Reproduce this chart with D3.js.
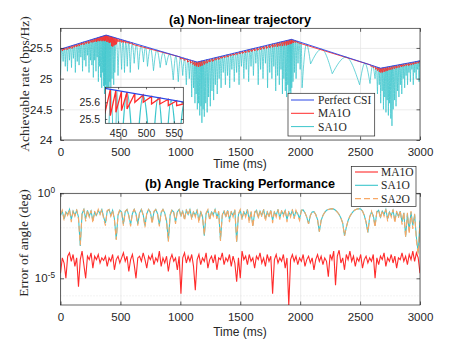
<!DOCTYPE html>
<html>
<head>
<meta charset="utf-8">
<script src="https://cdn.jsdelivr.net/npm/d3@7"></script>
<style>
  body { margin: 0; background: #fff; }
</style>
</head>
<body>
<div id="chart"></div>
<script>
// ---- data ----
var timeTicks = [0, 500, 1000, 1500, 2000, 2500, 3000];
var rateTicks = [24, 24.5, 25, 25.5];
var insetTimeTicks = [450, 500, 550];
var insetRateTicks = [25.5, 25.6];
var errorTicks = [1e-5, 1];

// perfect CSI: corners of the trajectory [time ms, rate]
var perfectCsi = [[0, 25.48], [381, 25.71], [1140, 25.27], [1928, 25.64], [2671, 25.17], [3000, 25.29]];

// MA1O sawtooth teeth: [time, top, bottom]
var ma1oTeeth = [
  [0, 25.48, 25.48],
  [15, 25.489, 25.45], [35, 25.501, 25.47], [55, 25.513, 25.47], [75, 25.525, 25.49], [95, 25.537, 25.49],
  [115, 25.549, 25.51], [135, 25.562, 25.52], [155, 25.574, 25.53], [175, 25.586, 25.55], [195, 25.598, 25.55],
  [215, 25.610, 25.57], [235, 25.622, 25.57], [255, 25.634, 25.59], [270, 25.643, 25.59], [285, 25.652, 25.60],
  [300, 25.661, 25.60], [312, 25.668, 25.61], [324, 25.676, 25.61], [336, 25.683, 25.62], [346, 25.689, 25.61],
  [356, 25.695, 25.62], [366, 25.701, 25.61], [376, 25.707, 25.62], [386, 25.707, 25.60], [396, 25.701, 25.60],
  [406, 25.695, 25.58], [416, 25.690, 25.59], [426, 25.684, 25.53], [436, 25.678, 25.52], [446, 25.672, 25.54],
  [456, 25.666, 25.55], [466, 25.661, 25.56], [480, 25.653, 25.60], [495, 25.644, 25.60], [510, 25.635, 25.59],
  [525, 25.626, 25.59], [540, 25.618, 25.58], [555, 25.609, 25.58], [575, 25.597, 25.57], [600, 25.583, 25.56],
  [1000, 25.351, 25.32], [1030, 25.334, 25.30], [1060, 25.316, 25.27], [1085, 25.302, 25.25], [1105, 25.290, 25.23],
  [1120, 25.281, 25.21], [1135, 25.273, 25.20], [1150, 25.275, 25.19], [1165, 25.282, 25.20], [1180, 25.289, 25.21],
  [1200, 25.298, 25.23], [1222, 25.309, 25.25], [1245, 25.319, 25.27], [1270, 25.331, 25.28], [1295, 25.343, 25.30],
  [1320, 25.355, 25.31], [1345, 25.366, 25.33], [1370, 25.378, 25.34], [1395, 25.390, 25.35], [1420, 25.402, 25.37],
  [1445, 25.413, 25.38], [1470, 25.425, 25.39], [1495, 25.437, 25.40], [1520, 25.449, 25.41], [1545, 25.460, 25.42],
  [1570, 25.472, 25.43], [1595, 25.484, 25.44], [1620, 25.496, 25.45], [1645, 25.507, 25.46], [1670, 25.519, 25.47],
  [1695, 25.531, 25.48], [1720, 25.543, 25.49], [1745, 25.554, 25.50], [1770, 25.566, 25.51], [1790, 25.576, 25.52],
  [1810, 25.585, 25.52], [1830, 25.594, 25.53], [1850, 25.604, 25.53], [1868, 25.612, 25.54], [1885, 25.620, 25.54],
  [1900, 25.627, 25.55], [1915, 25.634, 25.56], [1928, 25.640, 25.57], [1942, 25.631, 25.58], [1958, 25.621, 25.59],
  [1975, 25.610, 25.59],
  [2590, 25.221, 25.20], [2610, 25.208, 25.18], [2628, 25.197, 25.15], [2645, 25.186, 25.13], [2660, 25.177, 25.11],
  [2672, 25.170, 25.10], [2685, 25.175, 25.10], [2700, 25.181, 25.11], [2715, 25.186, 25.12], [2730, 25.192, 25.13],
  [2748, 25.198, 25.14], [2766, 25.205, 25.15], [2785, 25.212, 25.16], [2805, 25.219, 25.17], [2825, 25.226, 25.18],
  [2845, 25.234, 25.19], [2865, 25.241, 25.20], [2885, 25.248, 25.21], [2905, 25.255, 25.21], [2925, 25.263, 25.22],
  [2945, 25.270, 25.23], [2965, 25.277, 25.24], [2985, 25.285, 25.25],
  [3000, 25.29, 25.29]
];

// SA1O rate: dip, top, dip, top, ... [time, rate]
var sa1oRate = [
  [0,25.05],[11,25.49],[22,25.28],[31,25.50],[40,25.2],[49,25.51],[58,25.12],[66,25.52],[75,25.3],[83,25.53],
  [92,25.18],[100,25.54],[108,25.33],[116,25.55],[124,25.1],[132,25.56],[140,25.28],[147,25.57],[155,25.22],[162,25.58],
  [170,25.35],[177,25.59],[184,25.12],[191,25.60],[198,25.3],[205,25.60],[212,25.2],[218,25.61],[225,25.38],[231,25.62],
  [238,25.1],[244,25.63],[250,25.3],[256,25.63],[262,25.22],[268,25.64],[274,25.02],[279,25.65],[285,25.3],[290,25.66],
  [296,25.12],[301,25.66],[306,25.35],[311,25.67],[316,24.95],[321,25.67],[326,25.2],[330,25.68],[335,25.02],[339,25.68],
  [344,24.85],[348,25.69],[352,25.1],[356,25.69],[360,24.88],[363,25.70],[367,24.75],[370,25.70],[374,24.9],[377,25.71],
  [380,24.8],[384,25.71],[388,24.7],[392,25.70],[396,24.85],[400,25.70],[404,24.75],[408,25.69],[412,24.95],[416,25.69],
  [420,24.8],[425,25.68],[430,25.0],[437,25.68],[444,24.9],[448,25.67],[453,25.1],[466,25.66],[480,25.05],[495,25.64],
  [510,25.15],[522,25.63],[534,25.1],[545,25.61],[557,25.2],[569,25.60],[582,25.1],[598,25.58],[615,25.25],[633,25.56],
  [651,25.15],[672,25.54],[693,25.27],[709,25.52],[726,25.2],[751,25.50],[776,25.13],[804,25.47],[832,25.18],[857,25.43],
  [882,25.22],[911,25.40],[941,24.98],[962,25.37],[983,24.95],[1001,25.35],[1020,25.05],[1035,25.33],[1050,24.9],[1062,25.32],
  [1075,25.0],[1085,25.30],[1095,24.7],[1102,25.29],[1110,24.85],[1116,25.28],[1122,24.6],[1127,25.28],[1132,24.75],[1137,25.27],
  [1142,24.5],[1147,25.27],[1152,24.6],[1157,25.28],[1162,24.4],[1167,25.28],[1172,24.55],[1176,25.29],[1180,24.28],[1185,25.29],
  [1190,24.5],[1195,25.30],[1200,24.38],[1206,25.30],[1212,24.6],[1218,25.31],[1224,24.45],[1230,25.31],[1236,24.7],[1243,25.32],
  [1250,24.55],[1257,25.32],[1264,24.8],[1271,25.33],[1278,24.65],[1285,25.34],[1292,24.9],[1300,25.35],[1308,24.75],[1316,25.35],
  [1324,25.0],[1332,25.36],[1340,24.85],[1349,25.37],[1358,25.1],[1367,25.38],[1376,24.9],[1385,25.39],[1394,25.05],[1403,25.39],
  [1412,24.85],[1421,25.40],[1430,25.15],[1440,25.41],[1450,24.95],[1460,25.42],[1470,25.1],[1480,25.43],[1490,24.9],[1500,25.44],
  [1510,25.2],[1520,25.45],[1530,25.0],[1540,25.46],[1550,25.15],[1560,25.47],[1570,24.95],[1580,25.48],[1590,25.2],[1600,25.49],
  [1610,25.05],[1620,25.50],[1630,25.25],[1640,25.50],[1650,24.9],[1660,25.51],[1670,25.15],[1680,25.52],[1690,25.0],[1700,25.53],
  [1710,25.25],[1719,25.54],[1728,24.85],[1737,25.55],[1746,25.1],[1755,25.56],[1764,25.0],[1772,25.57],[1780,25.2],[1788,25.57],
  [1796,24.8],[1804,25.58],[1812,25.05],[1819,25.59],[1826,24.9],[1833,25.60],[1840,25.15],[1846,25.60],[1852,24.75],[1858,25.61],
  [1864,25.0],[1870,25.61],[1876,24.8],[1882,25.62],[1887,24.7],[1892,25.62],[1897,24.9],[1902,25.63],[1906,24.65],[1911,25.63],
  [1915,24.8],[1919,25.64],[1922,24.7],[1926,25.64],[1930,24.85],[1935,25.64],[1940,24.95],[1946,25.63],[1952,25.1],[1959,25.62],
  [1966,25.0],[1974,25.61],[1982,25.25],[1991,25.60],[2000,25.15],[2008,25.59],[2016,24.85],[2052,25.56],[2087,25.24],[2178,25.48],
  [2268,25.08],[2382,25.35],[2496,24.9],[2540,25.25],[2583,24.92],[2604,25.21],[2625,25.0],[2635,25.19],[2645,24.75],[2653,25.18],
  [2660,24.9],[2666,25.17],[2672,24.6],[2678,25.17],[2684,24.8],[2690,25.18],[2695,24.5],[2700,25.18],[2706,24.7],[2711,25.18],
  [2716,24.45],[2721,25.19],[2726,24.65],[2731,25.19],[2736,24.4],[2741,25.20],[2746,24.6],[2751,25.20],[2756,24.35],[2761,25.20],
  [2766,24.23],[2771,25.21],[2776,24.5],[2782,25.21],[2788,24.65],[2794,25.22],[2800,24.55],[2806,25.22],[2812,24.8],[2818,25.22],
  [2824,24.7],[2830,25.23],[2836,24.9],[2842,25.23],[2848,24.75],[2854,25.24],[2860,25.0],[2866,25.24],[2872,24.85],[2878,25.25],
  [2884,25.05],[2890,25.25],[2896,24.9],[2902,25.25],[2908,25.1],[2914,25.26],[2920,24.95],[2926,25.26],[2932,25.15],[2938,25.27],
  [2944,24.9],[2950,25.27],[2956,25.1],[2962,25.28],[2968,25.0],[2974,25.28],[2980,25.15],[2986,25.29],[2992,24.95],[2996,25.29],
  [3000,25.2]
];

// angle error, one value every 15 ms, stored as log10 of the error in deg
var angleTime = d3.range(0, 3001, 15);
var ma1oErrExp = [
  -4.7,-3.8,-4.1,-5.0,-3.7,-3.5,-4.0,-3.6,-4.3,-3.8,
  -5.5,-3.9,-3.4,-4.2,-5.0,-3.7,-3.9,-3.5,-4.4,-3.7,
  -3.9,-3.6,-4.1,-3.8,-3.95,-3.7,-4.3,-3.8,-4.0,-3.6,
  -4.5,-3.9,-3.7,-4.1,-3.8,-3.5,-4.0,-3.7,-4.6,-3.9,
  -3.6,-4.2,-5.0,-3.8,-3.7,-4.0,-3.5,-3.9,-4.4,-3.7,
  -3.9,-3.6,-4.2,-3.8,-4.0,-3.4,-4.3,-3.8,-4.1,-3.7,
  -4.6,-3.9,-3.6,-4.0,-3.8,-4.5,-3.7,-5.9,-3.8,-3.5,
  -4.1,-3.7,-4.0,-3.6,-4.3,-5.7,-3.9,-3.6,-4.2,-3.8,
  -4.0,-3.5,-4.4,-3.9,-3.7,-4.1,-3.6,-4.5,-3.8,-3.9,
  -3.5,-4.2,-3.8,-4.0,-3.6,-4.3,-3.7,-4.1,-5.2,-3.8,
  -5.0,-3.4,-3.9,-3.7,-4.2,-3.6,-4.0,-3.8,-4.4,-3.7,
  -3.9,-3.5,-4.1,-3.8,-4.3,-3.6,-4.0,-3.7,-5.9,-3.9,
  -3.6,-4.1,-3.8,-4.0,-3.6,-4.4,-3.8,-6.6,-3.9,-3.6,
  -4.0,-3.7,-4.2,-3.8,-4.0,-3.6,-4.3,-3.9,-3.7,-4.1,
  -3.8,-4.5,-3.9,-3.6,-4.0,-3.7,-4.2,-3.8,-4.0,-4.9,
  -3.6,-3.9,-3.4,-5.4,-3.7,-3.35,-4.1,-3.8,-4.5,-3.6,
  -3.9,-3.4,-4.0,-3.7,-4.3,-3.8,-4.0,-3.6,-4.4,-3.9,
  -3.7,-4.1,-3.8,-4.0,-3.6,-5.0,-3.8,-4.2,-3.7,-3.9,
  -3.5,-4.3,-3.8,-4.0,-3.6,-4.1,-3.7,-4.4,-3.8,-3.9,
  -3.5,-4.0,-3.7,-4.2,-3.6,-3.9,-3.4,-4.0,-3.5,-3.8,
  -4.7
];
var sa1oErrExp = [
  -1.3,-1.05,-1.5,-1.1,-1.25,-0.95,-1.55,-1.05,-1.3,-1.0,
  -1.4,-3.1,-1.2,-0.95,-1.5,-1.0,-1.35,-1.05,-1.6,-1.1,
  -1.3,-1.0,-1.2,-0.95,-1.4,-1.75,-1.05,-0.95,-1.3,-1.0,
  -1.5,-2.7,-1.3,-1.0,-1.1,-1.8,-1.1,-0.95,-1.3,-1.85,
  -1.2,-0.95,-1.2,-1.8,-1.15,-0.95,-1.25,-1.9,-1.2,-0.95,
  -1.1,-1.7,-1.1,-0.95,-1.2,-1.85,-1.15,-0.95,-1.15,-1.6,
  -2.8,-1.3,-1.0,-1.1,-1.7,-1.1,-0.95,-1.3,-1.05,-1.5,
  -1.0,-1.25,-0.95,-1.45,-1.1,-1.3,-1.0,-1.6,-1.1,-1.35,
  -2.5,-1.2,-1.0,-1.5,-1.1,-1.25,-0.95,-1.4,-1.1,-2.75,
  -1.3,-1.05,-1.35,-1.0,-1.55,-1.1,-1.3,-1.0,-2.85,-1.25,
  -1.0,-1.45,-1.1,-1.3,-0.95,-1.6,-1.1,-1.9,-1.15,-1.0,
  -1.4,-1.05,-1.3,-0.95,-1.5,-1.1,-1.35,-1.0,-1.6,-1.1,
  -1.3,-0.95,-1.45,-1.05,-1.25,-1.0,-1.55,-1.1,-1.3,-1.0,
  -1.4,-1.05,-1.2,-1.5,-1.0,-0.98,-1.15,-1.4,-1.8,-1.3,
  -1.1,-1.08,-1.25,-1.55,-2.25,-1.6,-1.3,-1.12,-1.0,-0.95,
  -0.92,-0.9,-0.93,-1.0,-1.1,-1.25,-1.45,-1.75,-2.5,-2.0,
  -1.6,-1.35,-1.18,-1.05,-0.97,-0.92,-0.9,-0.92,-1.05,-1.3,
  -1.7,-2.3,-1.4,-1.1,-1.3,-1.9,-1.1,-1.0,-1.4,-1.05,
  -1.25,-0.95,-1.5,-1.1,-1.3,-1.0,-1.6,-1.1,-1.35,-1.05,
  -1.7,-1.15,-2.55,-1.2,-2.2,-1.1,-1.9,-1.25,-2.6,-3.5,
  -1.6
];
var sa2oErrExp = [
  -1.25,-1.0,-1.6,-1.05,-1.3,-0.95,-1.7,-1.0,-1.35,-0.95,
  -1.5,-3.05,-1.15,-0.95,-1.65,-1.0,-1.4,-1.0,-1.75,-1.05,
  -1.35,-0.95,-1.25,-0.95,-1.5,-1.9,-1.0,-0.95,-1.35,-1.0,
  -1.6,-2.75,-1.25,-0.95,-1.15,-1.9,-1.05,-0.95,-1.35,-1.95,
  -1.15,-0.95,-1.25,-1.9,-1.1,-0.95,-1.3,-2.0,-1.15,-0.95,
  -1.15,-1.8,-1.05,-0.95,-1.25,-1.95,-1.1,-0.95,-1.2,-1.7,
  -2.85,-1.25,-0.95,-1.15,-1.8,-1.05,-0.95,-1.4,-1.0,-1.6,
  -0.95,-1.3,-0.95,-1.55,-1.05,-1.4,-0.95,-1.75,-1.05,-1.45,
  -2.45,-1.15,-0.95,-1.6,-1.05,-1.35,-0.95,-1.5,-1.05,-2.8,
  -1.25,-1.0,-1.45,-0.95,-1.7,-1.05,-1.4,-0.95,-2.9,-1.2,
  -0.95,-1.55,-1.05,-1.4,-0.95,-1.75,-1.05,-2.0,-1.1,-0.95,
  -1.5,-1.0,-1.4,-0.95,-1.65,-1.05,-1.45,-0.95,-1.75,-1.05,
  -1.4,-0.95,-1.55,-1.0,-1.35,-0.95,-1.7,-1.05,-1.4,-0.95,
  -1.5,-1.0,-1.3,-1.6,-1.0,-0.98,-1.15,-1.4,-1.8,-1.3,
  -1.1,-1.08,-1.25,-1.55,-2.25,-1.6,-1.3,-1.12,-1.0,-0.95,
  -0.92,-0.9,-0.93,-1.0,-1.1,-1.25,-1.45,-1.75,-2.5,-2.0,
  -1.6,-1.35,-1.18,-1.05,-0.97,-0.92,-0.9,-0.92,-1.05,-1.3,
  -1.7,-2.3,-1.4,-1.05,-1.4,-2.0,-1.05,-1.0,-1.5,-1.0,
  -1.35,-0.95,-1.65,-1.05,-1.4,-0.95,-1.75,-1.05,-1.45,-1.0,
  -1.85,-1.1,-2.6,-1.15,-2.4,-1.05,-2.1,-1.2,-2.8,-3.6,
  -1.7
];

// ---- setup ----
var svgWidth = 464;
var svgHeight = 348;
var fontSans = "'Liberation Sans', Arial, Helvetica, sans-serif";
var fontSerif = "'Liberation Serif', 'Times New Roman', serif";
var axisColor = "#262626";

var colBlue = "#2a46e6";
var colRed = "#ff2b2b";
var colCyan = "#3cc6cc";
var colOrange = "#f8a865";

var svg = d3.select("#chart").append("svg")
  .attr("width", svgWidth)
  .attr("height", svgHeight);

var boxA = {left: 60.5, right: 420, top: 28.3, bottom: 140};
var boxB = {left: 60.5, right: 420, top: 193.3, bottom: 305};
var boxIn = {left: 105.3, right: 183.3, top: 87.3, bottom: 123.3};

var xA = d3.scaleLinear().domain([0, 3000]).range([boxA.left, boxA.right]);
var yA = d3.scaleLinear().domain([24, 25.82]).range([boxA.bottom, boxA.top]);
var xB = d3.scaleLinear().domain([0, 3000]).range([boxB.left, boxB.right]);
var yB = d3.scaleLog().domain([Math.pow(10, -6.57), 1]).range([boxB.bottom, boxB.top]);
var xI = d3.scaleLinear().domain([427, 567]).range([boxIn.left, boxIn.right]);
var yI = d3.scaleLinear().domain([25.474, 25.69]).range([boxIn.bottom, boxIn.top]);

var defs = svg.append("defs");
function clip(id, b) {
  defs.append("clipPath").attr("id", id).append("rect")
    .attr("x", b.left).attr("y", b.top)
    .attr("width", b.right - b.left).attr("height", b.bottom - b.top);
  return "url(#" + id + ")";
}
var clipA = clip("clipA", boxA), clipB = clip("clipB", boxB), clipI = clip("clipI", boxIn);

// gridlines through the axis generators
function grid(b, x, y, xt, yt, color) {
  var g = svg.append("g");
  g.append("g").attr("transform", `translate(0,${b.bottom})`)
    .call(d3.axisBottom(x).tickValues(xt).tickSize(-(b.bottom - b.top)).tickFormat(""))
    .call(s => s.select(".domain").remove());
  g.append("g").attr("transform", `translate(${b.left},0)`)
    .call(d3.axisLeft(y).tickValues(yt).tickSize(-(b.right - b.left)).tickFormat(""))
    .call(s => s.select(".domain").remove());
  g.selectAll("line").attr("stroke", color).attr("stroke-width", 0.7);
  return g;
}

// box with inward ticks on all four sides
function frame(b, x, y, o) {
  var g = svg.append("g").attr("color", axisColor);
  var bottom = g.append("g").attr("transform", `translate(0,${b.bottom})`)
    .call(d3.axisBottom(x).tickValues(o.xt).tickSizeInner(-o.len).tickSizeOuter(0)
      .tickPadding(o.padX).tickFormat(o.xfmt));
  g.append("g").attr("transform", `translate(0,${b.top})`)
    .call(d3.axisTop(x).tickValues(o.xt).tickSizeInner(-o.len).tickSizeOuter(0).tickFormat(""));
  var left = g.append("g").attr("transform", `translate(${b.left},0)`)
    .call(d3.axisLeft(y).tickValues(o.yt).tickSizeInner(-o.len).tickSizeOuter(0)
      .tickPadding(o.padY).tickFormat(o.yfmt));
  g.append("g").attr("transform", `translate(${b.right},0)`)
    .call(d3.axisRight(y).tickValues(o.yt).tickSizeInner(-o.len).tickSizeOuter(0).tickFormat(""));
  g.selectAll(".domain").remove();
  g.selectAll("line").attr("stroke-width", 0.7);
  g.selectAll("g > g").attr("font-family", fontSans).attr("font-size", o.size);
  g.append("rect")
    .attr("x", b.left).attr("y", b.top)
    .attr("width", b.right - b.left).attr("height", b.bottom - b.top)
    .attr("fill", "none").attr("stroke", axisColor).attr("stroke-width", 0.7);
  return {bottom: bottom, left: left};
}

function lineOf(x, y) {
  return d3.line().x(d => x(d[0])).y(d => y(d[1]));
}

// SA1O: each arc runs dip -> top -> dip, so the cusps stay sharp
function arcsPath(x, y, pts) {
  var arc = d3.line().x(d => x(d[0])).y(d => y(d[1])).curve(d3.curveMonotoneX);
  var parts = [];
  for (var i = 0; i + 2 < pts.length; i += 2) {
    parts.push(arc(pts.slice(i, i + 3)));
  }
  return parts.join("");
}

var ma1oPts = [];
ma1oTeeth.forEach(function(d) {
  ma1oPts.push([d[0], d[1]]);
  if (d[2] !== d[1]) ma1oPts.push([d[0], d[2]]);
});

function drawRates(g, x, y, wc, w) {
  g.append("path").attr("d", arcsPath(x, y, sa1oRate))
    .attr("fill", "none").attr("stroke", colCyan).attr("stroke-width", wc);
  g.append("path").attr("d", lineOf(x, y)(ma1oPts))
    .attr("fill", "none").attr("stroke", colRed).attr("stroke-width", w);
  g.append("path").attr("d", lineOf(x, y)(perfectCsi))
    .attr("fill", "none").attr("stroke", colBlue).attr("stroke-width", w);
}

// ================= (a) =================
grid(boxA, xA, yA, timeTicks, rateTicks, "#e4e4e4");

var plotA = svg.append("g").attr("clip-path", clipA);
drawRates(plotA, xA, yA, 0.75, 0.9);

frame(boxA, xA, yA, {
  xt: timeTicks, yt: rateTicks, len: 3.5, size: 11.5, padX: 7.5, padY: 8,
  xfmt: d => d, yfmt: d => d
});

svg.append("text")
  .attr("x", 240).attr("y", 23.5)
  .attr("text-anchor", "middle")
  .attr("font-family", fontSans).attr("font-weight", "bold").attr("font-size", 12.6)
  .text("(a) Non-linear trajectory");

svg.append("text")
  .attr("x", 240).attr("y", 167.5)
  .attr("text-anchor", "middle")
  .attr("font-family", fontSans).attr("font-size", 12).attr("fill", axisColor)
  .text("Time (ms)");

svg.append("text")
  .attr("transform", "translate(28.5,84) rotate(-90)")
  .attr("text-anchor", "middle")
  .attr("font-family", fontSerif).attr("font-size", 13.5).attr("fill", axisColor)
  .text("Achievable rate (bps/Hz)");

// inset zoom
svg.append("rect")
  .attr("x", boxIn.left).attr("y", boxIn.top)
  .attr("width", boxIn.right - boxIn.left).attr("height", boxIn.bottom - boxIn.top)
  .attr("fill", "#fff");
var plotI = svg.append("g").attr("clip-path", clipI);
drawRates(plotI, xI, yI, 1.2, 1.3);
frame(boxIn, xI, yI, {
  xt: insetTimeTicks, yt: insetRateTicks, len: 2, size: 10.5, padX: 6.2, padY: 5.3,
  xfmt: d => d, yfmt: d3.format(".1f")
});

// legend (a)
var legA = svg.append("g");
legA.append("rect")
  .attr("x", 288).attr("y", 93.3).attr("width", 86.7).attr("height", 42.7)
  .attr("fill", "#fff").attr("stroke", axisColor).attr("stroke-width", 0.7);
var legAItems = [["Perfect CSI", colBlue], ["MA1O", colRed], ["SA1O", colCyan]];
legAItems.forEach(function(d, i) {
  var yy = 100 + i * 13.3;
  legA.append("line").attr("x1", 291).attr("x2", 314).attr("y1", yy).attr("y2", yy)
    .attr("stroke", d[1]).attr("stroke-width", 1);
  legA.append("text").attr("x", 318).attr("y", yy + 4)
    .attr("font-family", fontSerif).attr("font-size", 11.5).attr("fill", axisColor)
    .text(d[0]);
});

// ================= (b) =================
grid(boxB, xB, yB, timeTicks, errorTicks, "#e4e4e4");
// faint dotted minor lines
svg.append("g").attr("transform", `translate(${boxB.left},0)`)
  .call(d3.axisLeft(yB).tickValues([1e-2, 1e-6]).tickSize(-(boxB.right - boxB.left)).tickFormat(""))
  .call(s => s.select(".domain").remove())
  .selectAll("line").attr("stroke", "#dcdcdc").attr("stroke-width", 0.7).attr("stroke-dasharray", "1,2");

var plotB = svg.append("g").attr("clip-path", clipB);
var errLine = d3.line().x((d, i) => xB(angleTime[i])).y(d => yB(Math.pow(10, d)));

plotB.append("path").attr("d", errLine(ma1oErrExp))
  .attr("fill", "none").attr("stroke", colRed).attr("stroke-width", 1.1);
plotB.append("path").attr("d", errLine(sa1oErrExp))
  .attr("fill", "none").attr("stroke", colCyan).attr("stroke-width", 1.1);
plotB.append("path").attr("d", errLine(sa2oErrExp))
  .attr("fill", "none").attr("stroke", colOrange).attr("stroke-width", 1.1)
  .attr("stroke-dasharray", "6,3");

var axB = frame(boxB, xB, yB, {
  xt: timeTicks, yt: errorTicks, len: 3.5, size: 11.5, padX: 7.6, padY: 5.5,
  xfmt: d => d, yfmt: d => ""
});
// 10^k labels with superscript
axB.left.selectAll(".tick text").each(function(d) {
  var t = d3.select(this);
  t.text("10");
  t.append("tspan").attr("dy", "-0.5em").attr("font-size", "0.72em")
    .text(Math.round(Math.log10(d)));
});

svg.append("text")
  .attr("x", 240).attr("y", 188)
  .attr("text-anchor", "middle")
  .attr("font-family", fontSans).attr("font-weight", "bold").attr("font-size", 12.6)
  .text("(b) Angle Tracking Performance");

svg.append("text")
  .attr("x", 240).attr("y", 335.5)
  .attr("text-anchor", "middle")
  .attr("font-family", fontSans).attr("font-size", 12).attr("fill", axisColor)
  .text("Time (ms)");

svg.append("text")
  .attr("transform", "translate(28,243) rotate(-90)")
  .attr("text-anchor", "middle")
  .attr("font-family", fontSerif).attr("font-size", 13.5).attr("fill", axisColor)
  .text("Error of angle (deg)");

// legend (b)
var legB = svg.append("g");
legB.append("rect")
  .attr("x", 351.3).attr("y", 166.5).attr("width", 64.7).attr("height", 40)
  .attr("fill", "#fff").attr("stroke", axisColor).attr("stroke-width", 0.7);
var legBItems = [["MA1O", colRed, null], ["SA1O", colCyan, null], ["SA2O", colOrange, "6,3"]];
legBItems.forEach(function(d, i) {
  var yy = 172 + i * 13.3;
  legB.append("line").attr("x1", 355).attr("x2", 378).attr("y1", yy).attr("y2", yy)
    .attr("stroke", d[1]).attr("stroke-width", 1.1).attr("stroke-dasharray", d[2]);
  legB.append("text").attr("x", 381).attr("y", yy + 4)
    .attr("font-family", fontSerif).attr("font-size", 11.5).attr("fill", axisColor)
    .text(d[0]);
});
</script>
</body>
</html>
